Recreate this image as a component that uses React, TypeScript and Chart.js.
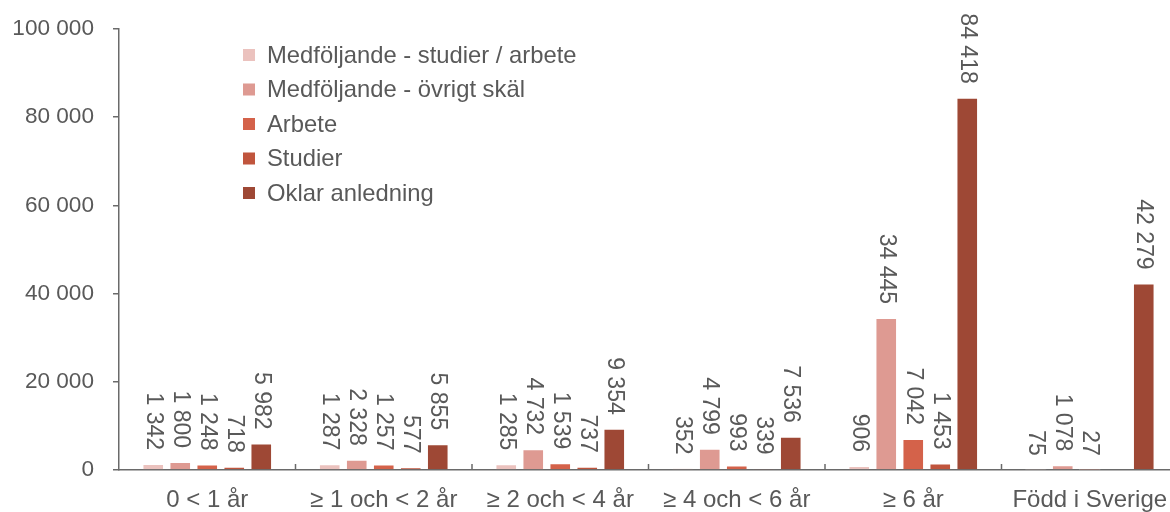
import React, { useEffect, useRef } from "react";
import { Chart, registerables } from "chart.js";

Chart.register(...registerables);

const categories = [
  "0 < 1 år",
  "≥ 1 och < 2 år",
  "≥ 2 och < 4 år",
  "≥ 4 och < 6 år",
  "≥ 6 år",
  "Född i Sverige",
];

const seriesNames = [
  "Medföljande - studier / arbete",
  "Medföljande - övrigt skäl",
  "Arbete",
  "Studier",
  "Oklar anledning",
];

const medfoljandeStudierArbete = [1342, 1287, 1285, 352, 906, 75];
const medfoljandeOvrigt = [1800, 2328, 4732, 4799, 34445, 1078];
const arbete = [1248, 1257, 1539, 993, 7042, 27];
const studier: (number | null)[] = [718, 577, 737, 339, 1453, null];
const oklarAnledning = [5982, 5855, 9354, 7536, 84418, 42279];

const yTicks = [0, 20000, 40000, 60000, 80000, 100000];

const colors = ["#EBC2BE", "#DE9A92", "#D4624A", "#C0553D", "#9E4835"];

const FONT = "'Liberation Sans', Arial, sans-serif";
const TEXT = "#595959";
const AXIS = "#6a6a6a";
const FS_Y = 22.6;
const FS_X = 24;
const FS_LEGEND = 23.8;
const FS_LABEL = 23;

const fmt = (v: number) => String(v).replace(/\B(?=(\d{3})+(?!\d))/g, " ");

const dataLabelPlugin = {
  id: "dataLabels",
  afterDatasetsDraw(chart: any) {
    const ctx = chart.ctx;
    ctx.save();
    ctx.font = `${FS_LABEL}px ${FONT}`;
    ctx.fillStyle = TEXT;
    ctx.textAlign = "right";
    ctx.textBaseline = "middle";
    chart.data.datasets.forEach((ds: any, di: number) => {
      const meta = chart.getDatasetMeta(di);
      meta.data.forEach((bar: any, i: number) => {
        const v = ds.data[i];
        if (v === null || v === undefined) return;
        ctx.save();
        ctx.translate(bar.x, bar.y - 14);
        ctx.rotate(Math.PI / 2);
        ctx.fillText(fmt(v), 0, 0);
        ctx.restore();
      });
    });
    ctx.restore();
  },
};

const legendPlugin = {
  id: "customLegend",
  afterDraw(chart: any) {
    const ctx = chart.ctx;
    ctx.save();
    ctx.font = `${FS_LEGEND}px ${FONT}`;
    ctx.textAlign = "left";
    ctx.textBaseline = "middle";
    const x0 = 243;
    const y0 = 55;
    const step = 34.5;
    chart.data.datasets.forEach((ds: any, i: number) => {
      const yc = y0 + i * step;
      ctx.fillStyle = ds.backgroundColor;
      ctx.fillRect(x0, yc - 6, 12, 12);
      ctx.fillStyle = TEXT;
      ctx.fillText(ds.label, x0 + 24, yc + 1);
    });
    ctx.restore();
  },
};

const xTickPlugin = {
  id: "xInwardTicks",
  afterDraw(chart: any) {
    const ctx = chart.ctx;
    const xs = chart.scales.x;
    const bottom = chart.chartArea.bottom;
    ctx.save();
    ctx.strokeStyle = AXIS;
    ctx.lineWidth = 1.5;
    for (let i = 0; i < categories.length - 1; i++) {
      const x = (xs.getPixelForValue(i) + xs.getPixelForValue(i + 1)) / 2;
      ctx.beginPath();
      ctx.moveTo(x, bottom);
      ctx.lineTo(x, bottom - 6);
      ctx.stroke();
    }
    ctx.restore();
  },
};

export default function App() {
  const ref = useRef<HTMLCanvasElement | null>(null);

  useEffect(() => {
    if (!ref.current) return;
    const seriesData = [medfoljandeStudierArbete, medfoljandeOvrigt, arbete, studier, oklarAnledning];
    const chart = new Chart(ref.current, {
      type: "bar",
      data: {
        labels: categories,
        datasets: seriesNames.map((name, i) => ({
          label: name,
          data: seriesData[i] as any,
          backgroundColor: colors[i],
          borderColor: "rgba(255,255,255,0.35)",
          borderWidth: 1,
          categoryPercentage: 0.765,
          barPercentage: 0.8,
        })),
      },
      options: {
        responsive: false,
        animation: false,
        devicePixelRatio: 1,
        layout: { autoPadding: false, padding: { top: 29, right: 2, left: 0, bottom: 0 } },
        plugins: {
          legend: { display: false },
          tooltip: { enabled: false },
        },
        scales: {
          x: {
            grid: { display: false, drawTicks: false },
            border: { display: true, color: AXIS, width: 1.5 },
            ticks: {
              color: TEXT,
              font: { family: FONT, size: FS_X },
              padding: 15.5,
              maxRotation: 0,
              autoSkip: false,
            },
            afterFit(scale: any) {
              scale.height = 42;
              scale.paddingLeft = 0;
              scale.paddingRight = 0;
            },
          },
          y: {
            min: 0,
            max: 100000,
            afterBuildTicks(scale: any) {
              scale.ticks = yTicks.map((v) => ({ value: v }));
            },
            grid: {
              display: true,
              drawOnChartArea: false,
              drawTicks: true,
              tickLength: 6,
              color: AXIS,
              lineWidth: 1.5,
            },
            border: { display: true, color: AXIS, width: 1.5 },
            ticks: {
              color: TEXT,
              font: { family: FONT, size: FS_Y },
              padding: 19,
              callback: (v: any) => fmt(Number(v)),
            },
            afterFit(scale: any) {
              scale.width = 119;
              scale.paddingTop = 0;
              scale.paddingBottom = 0;
            },
          },
        },
      },
      plugins: [dataLabelPlugin, legendPlugin, xTickPlugin],
    });
    return () => chart.destroy();
  }, []);

  return (
    <div
      style={{
        position: "fixed",
        left: 0,
        top: 0,
        width: 1170,
        height: 512,
        overflow: "hidden",
        background: "#fff",
      }}
    >
      <canvas ref={ref} width={1180} height={512} style={{ width: 1180, height: 512, display: "block" }} />
    </div>
  );
}
